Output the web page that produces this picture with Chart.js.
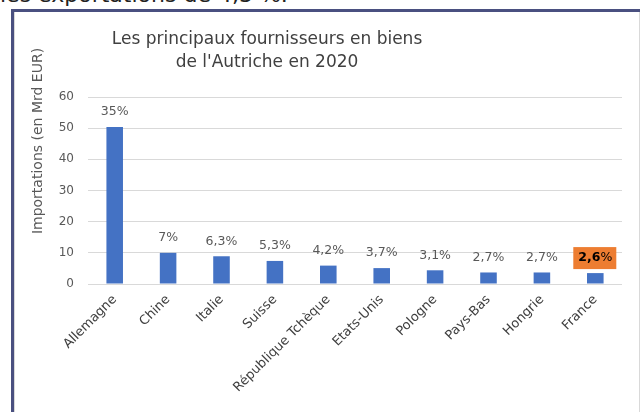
<!DOCTYPE html>
<html>
<head>
<meta charset="utf-8">
<script src="https://cdn.jsdelivr.net/npm/chart.js@4"></script>
<style>
  body { margin: 0; background: #fff; width: 640px; height: 412px; overflow: hidden; position: relative; }
  .lead { position: absolute; left: 0; top: -16px; font: 22px 'DejaVu Sans', sans-serif; line-height: 22px; color: #222; white-space: nowrap; }
  .frame { position: absolute; left: 11px; top: 9px; width: 700px; height: 500px; border-left: 3px solid #4a5080; border-top: 3px solid #4a5080; }
  .inner { position: absolute; left: 14px; top: 12px; width: 624px; height: 500px; border-left: 1px solid #d9d9d9; border-right: 1px solid #d9d9d9; }
  #graph { position: absolute; left: 0; top: 0; }
</style>
</head>
<body>
<div class="lead">les exportations de 4,3 %.</div>
<div class="frame"></div>
<div class="inner"></div>
<canvas id="graph" width="640" height="412"></canvas>
<script>
const countries = ['Allemagne', 'Chine', 'Italie', 'Suisse', 'République Tchèque', 'Etats-Unis', 'Pologne', 'Pays-Bas', 'Hongrie', 'France'];
const imports = [50.4, 10.0, 8.9, 7.4, 5.9, 5.1, 4.4, 3.7, 3.7, 3.5];
const shares = ['35%', '7%', '6,3%', '5,3%', '4,2%', '3,7%', '3,1%', '2,7%', '2,7%', '2,6%'];
const titleLines = ['Les principaux fournisseurs en biens', "de l'Autriche en 2020"];
const yTitle = 'Importations (en Mrd EUR)';
const highlight = 'France';

const font = "'DejaVu Sans', sans-serif";

// titles drawn by hand, the original is not centred on the canvas
const textPlugin = {
  id: 'texts',
  afterDraw(chart) {
    const ctx = chart.ctx;
    ctx.save();
    ctx.fillStyle = '#404040';
    ctx.font = '17px ' + font;
    ctx.textAlign = 'center';
    ctx.textBaseline = 'middle';
    ctx.fillText(titleLines[0], 267, 40);
    ctx.fillText(titleLines[1], 267, 63);

    ctx.fillStyle = '#595959';
    ctx.font = '14px ' + font;
    ctx.translate(38, 141);
    ctx.rotate(-Math.PI / 2);
    ctx.fillText(yTitle, 0, 0);
    ctx.restore();
  }
};

// percentage labels above the bars
const labelPlugin = {
  id: 'barLabels',
  afterDatasetsDraw(chart) {
    const ctx = chart.ctx;
    const meta = chart.getDatasetMeta(0);
    ctx.save();
    ctx.textBaseline = 'middle';
    meta.data.forEach((bar, i) => {
      const x = bar.x, y = bar.y - 15;
      if (countries[i] === highlight) {
        const num = shares[i].replace('%', '');
        ctx.font = 'bold 12.5px ' + font;
        const w1 = ctx.measureText(num).width;
        ctx.font = '12.5px ' + font;
        const w2 = ctx.measureText('%').width;
        ctx.fillStyle = '#ED7D31';
        ctx.fillRect(x - 22, y - 11, 43, 22);
        ctx.fillStyle = '#000';
        ctx.textAlign = 'left';
        const x0 = x - (w1 + w2) / 2;
        ctx.font = 'bold 12.5px ' + font;
        ctx.fillText(num, x0, y);
        ctx.font = '12.5px ' + font;
        ctx.fillText('%', x0 + w1, y);
      } else {
        ctx.fillStyle = '#595959';
        ctx.font = '12.5px ' + font;
        ctx.textAlign = 'center';
        ctx.fillText(shares[i], x, y);
      }
    });
    ctx.restore();
  }
};

new Chart(document.getElementById('graph').getContext('2d'), {
  type: 'bar',
  data: {
    labels: countries,
    datasets: [{
      data: imports,
      backgroundColor: '#4472C4',
      borderWidth: 0,
      categoryPercentage: 1,
      barPercentage: 0.31
    }]
  },
  options: {
    responsive: false,
    animation: false,
    devicePixelRatio: 1,
    layout: { padding: { top: 97, right: 18, left: 0, bottom: 0 } },
    plugins: {
      legend: { display: false },
      tooltip: { enabled: false },
      title: { display: false }
    },
    scales: {
      x: {
        grid: { display: false, drawTicks: false },
        border: { display: false },
        ticks: {
          color: '#404040',
          font: { family: font, size: 13 },
          minRotation: 45,
          maxRotation: 45,
          autoSkip: false,
          padding: 8
        },
        afterFit(scale) { scale.height = 128; }
      },
      y: {
        min: 0,
        max: 60,
        grid: { color: '#d9d9d9', drawTicks: false },
        border: { display: false },
        ticks: {
          stepSize: 10,
          color: '#595959',
          font: { family: font, size: 12 },
          padding: 14
        },
        afterFit(scale) { scale.width = 88; }
      }
    }
  },
  plugins: [textPlugin, labelPlugin]
});
</script>
</body>
</html>
